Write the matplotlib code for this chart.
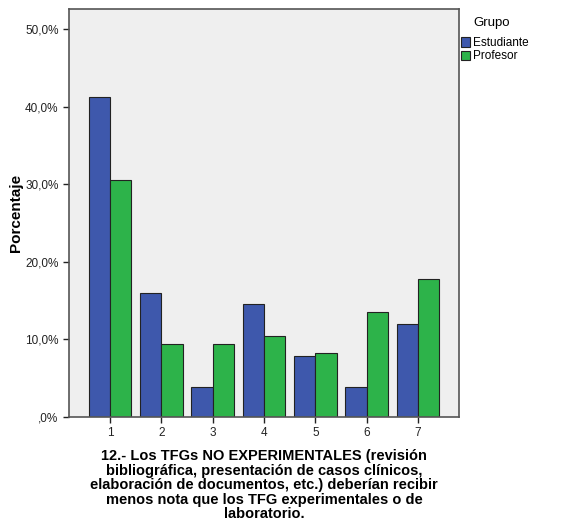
import matplotlib
matplotlib.use('Agg')
import matplotlib.pyplot as plt
import numpy as np

# percentages per answer (1..7) for each group
categorias = ['1', '2', '3', '4', '5', '6', '7']
estudiante = [41.3, 16.0, 3.9, 14.6, 7.9, 3.9, 12.0]
profesor = [30.5, 9.4, 9.4, 10.4, 8.3, 13.6, 17.8]
yticks = [0, 10, 20, 30, 40, 50]
ytick_labels = [',0%', '10,0%', '20,0%', '30,0%', '40,0%', '50,0%']

plt.rcParams['font.family'] = ['Liberation Sans', 'DejaVu Sans']

fig = plt.figure(figsize=(5.67, 5.24), dpi=100)
ax = fig.add_axes([0.1217, 0.2042, 0.6878, 0.7786])
ax.set_facecolor('#efefef')

x = np.arange(1, len(categorias) + 1)
w = 0.415
ax.bar(x - w / 2, estudiante, w, color='#3e58ac', edgecolor='#222222',
       linewidth=0.8, label='Estudiante', zorder=2)
ax.bar(x + w / 2, profesor, w, color='#2db34a', edgecolor='#222222',
       linewidth=0.8, label='Profesor', zorder=2)

ax.set_xlim(0.2, 7.8)
ax.set_ylim(0, 52.6)
ax.set_xticks(x)
ax.set_xticklabels(categorias)
ax.set_yticks(yticks)
ax.set_yticklabels(ytick_labels)
ax.tick_params(axis='both', labelsize=8.5, colors='#222222', length=4,
               width=1, direction='out')
for s in ax.spines.values():
    s.set_color('#555555')
    s.set_linewidth(1.2)

ax.set_ylabel('Porcentaje', fontsize=11, fontweight='bold')
ax.yaxis.set_label_coords(-0.117, 0.5)
ax.set_xlabel('12.- Los TFGs NO EXPERIMENTALES (revisión\n'
              'bibliográfica, presentación de casos clínicos,\n'
              'elaboración de documentos, etc.) deberían recibir\n'
              'menos nota que los TFG experimentales o de\n'
              'laboratorio.', fontsize=10.5, fontweight='bold',
              linespacing=1.05, labelpad=7)

# legend: title drawn separately so the spacing matches
fig.text(473 / 567, 1 - 23 / 524, 'Grupo', fontsize=9.5, va='center',
         ha='left')
ax.legend(loc='upper left', bbox_to_anchor=(461 / 567, 1 - 37 / 524),
          bbox_transform=fig.transFigure, frameon=False, fontsize=8.5,
          handlelength=0.8, handleheight=0.85, handletextpad=0.25,
          borderaxespad=0, borderpad=0, labelspacing=0.12)

fig.savefig('out.png', dpi=100)
